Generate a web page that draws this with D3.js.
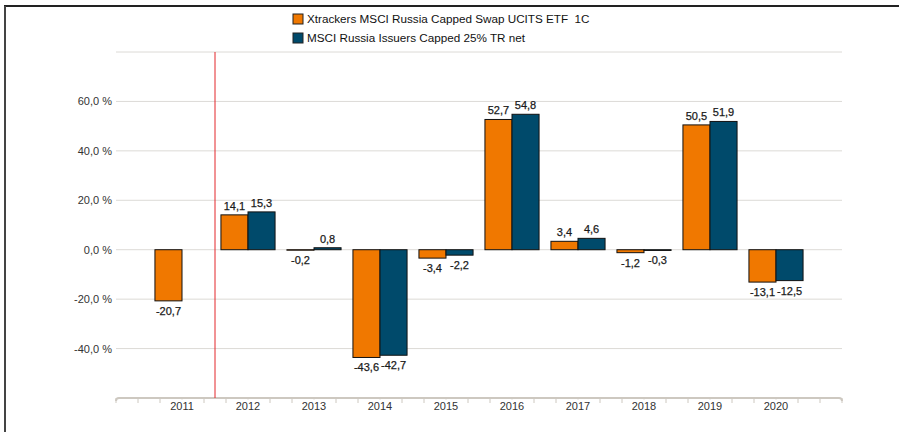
<!DOCTYPE html>
<html>
<head>
<meta charset="utf-8">
<script src="https://cdn.jsdelivr.net/npm/d3@7"></script>
<style>
  html, body { margin: 0; padding: 0; background: #fff; }
  svg { display: block; }
  text { font-family: "Liberation Sans", Arial, sans-serif; }
</style>
</head>
<body>
<script>
const years = [2011, 2012, 2013, 2014, 2015, 2016, 2017, 2018, 2019, 2020];
const etfValues = [-20.7, 14.1, -0.2, -43.6, -3.4, 52.7, 3.4, -1.2, 50.5, -13.1];
const indexValues = [null, 15.3, 0.8, -42.7, -2.2, 54.8, 4.6, -0.3, 51.9, -12.5];
const seriesNames = ["Xtrackers MSCI Russia Capped Swap UCITS ETF  1C", "MSCI Russia Issuers Capped 25% TR net"];
const seriesColors = ["#f07800", "#004a6b"];
const yTickValues = [-40, -20, 0, 20, 40, 60];
const gridValues = [-40, -20, 0, 20, 40, 60, 80];
const markerYear = 2011.5;

const W = 899, H = 432;
const svg = d3.select("body").append("svg").attr("width", W).attr("height", H);

// frame
svg.append("line").attr("x1", 4).attr("x2", W).attr("y1", 6).attr("y2", 6)
  .attr("stroke", "#222").attr("stroke-width", 2);
svg.append("line").attr("x1", 5).attr("x2", 5).attr("y1", 6).attr("y2", H)
  .attr("stroke", "#444").attr("stroke-width", 2);

const x = d3.scaleLinear().domain([2010, 2021]).range([116, 842]);
const y = d3.scaleLinear().domain([-60, 80]).range([398, 52]);

// gridlines
svg.append("g").selectAll("line").data(gridValues).join("line")
  .attr("x1", x(2010)).attr("x2", x(2021))
  .attr("y1", d => y(d)).attr("y2", d => y(d))
  .attr("stroke", "#dcdad6").attr("stroke-width", 1);

// y tick labels
const fmtPct = v => v.toFixed(1).replace(".", ",") + " %";
svg.append("g").selectAll("text").data(yTickValues).join("text")
  .attr("x", 112).attr("y", d => y(d) + 4)
  .attr("text-anchor", "end").attr("font-size", 11).attr("fill", "#333")
  .text(fmtPct);

// bars
const slot = x(2011) - x(2010);
const bw = slot * 0.41;
const fmtVal = v => v.toFixed(1).replace(".", ",");
const series = [etfValues, indexValues];
series.forEach((vals, si) => {
  const data = years.map((yr, i) => ({ yr, v: vals[i] })).filter(d => d.v !== null);
  const g = svg.append("g");
  g.selectAll("rect").data(data).join("rect")
    .attr("x", d => x(d.yr) + (si === 0 ? -bw : 0))
    .attr("width", bw)
    .attr("y", d => y(Math.max(0, d.v)))
    .attr("height", d => Math.max(0.5, Math.abs(y(d.v) - y(0))))
    .attr("fill", seriesColors[si])
    .attr("stroke", "#111").attr("stroke-width", 1);
  g.selectAll("text").data(data).join("text")
    .attr("x", d => x(d.yr) + (si === 0 ? -bw / 2 : bw / 2))
    .attr("y", d => d.v >= 0 ? y(d.v) - 5 : y(d.v) + 14)
    .attr("text-anchor", "middle").attr("font-size", 11).attr("fill", "#1a1a1a")
    .attr("stroke", "#1a1a1a").attr("stroke-width", 0.25)
    .text(d => fmtVal(d.v));
});

// x axis
const axisY = y(-60);
const axisColor = "#cdc8c0";
svg.append("path")
  .attr("d", `M${x(2010)},${axisY + 3} Q${x(2010)},${axisY} ${x(2010) + 3},${axisY} L${x(2021) - 3},${axisY} Q${x(2021)},${axisY} ${x(2021)},${axisY + 3}`)
  .attr("fill", "none").attr("stroke", axisColor).attr("stroke-width", 2);
const minorTicks = d3.range(0, 34).map(i => 2010 + i / 3);
svg.append("g").selectAll("line").data(minorTicks).join("line")
  .attr("x1", d => x(d)).attr("x2", d => x(d))
  .attr("y1", axisY).attr("y2", axisY + 5)
  .attr("stroke", axisColor).attr("stroke-width", 1);
svg.append("g").selectAll("rect").data(years).join("rect")
  .attr("x", d => x(d) - 14).attr("y", axisY + 1.5).attr("width", 28).attr("height", 6)
  .attr("fill", "#fff");
svg.append("g").selectAll("text").data(years).join("text")
  .attr("x", d => x(d)).attr("y", axisY + 12)
  .attr("text-anchor", "middle").attr("font-size", 11).attr("fill", "#333")
  .text(d => d);

// marker line
svg.append("line").attr("x1", x(markerYear)).attr("x2", x(markerYear))
  .attr("y1", y(80)).attr("y2", axisY)
  .attr("stroke", "#e3262b").attr("stroke-width", 1);

// legend
const leg = svg.append("g");
seriesNames.forEach((name, i) => {
  leg.append("rect").attr("x", 293).attr("y", 14 + i * 19).attr("width", 10).attr("height", 10)
    .attr("fill", seriesColors[i]).attr("stroke", "#222").attr("stroke-width", 1);
  leg.append("text").attr("x", 307).attr("y", 23 + i * 19)
    .attr("font-size", 11.7).attr("fill", "#111").style("white-space", "pre")
    .text(name);
});
</script>
</body>
</html>
